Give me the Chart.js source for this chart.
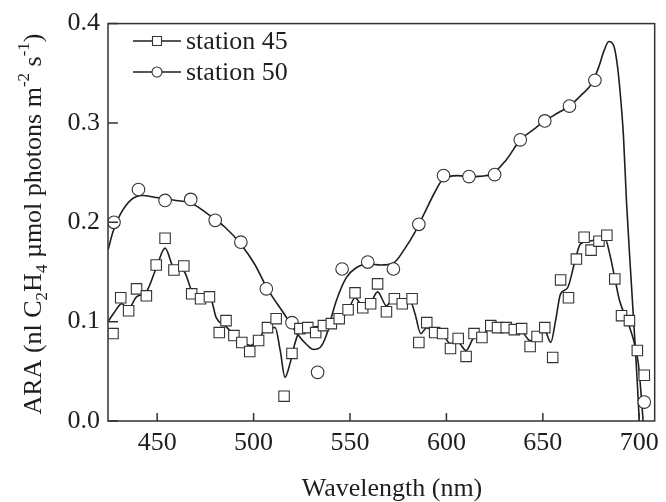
<!DOCTYPE html>
<html>
<head>
<meta charset="utf-8">
<script src="https://cdn.jsdelivr.net/npm/chart.js@4.4.1/dist/chart.umd.min.js"></script>
<style>
html,body{margin:0;padding:0;background:#fff;}
#wrap{width:666px;height:502px;}
</style>
</head>
<body>
<div id="wrap"><canvas id="c" width="666" height="502"></canvas></div>
<script>
// ---- data ----
const xTickValues = [450, 500, 550, 600, 650, 700];
const yTickValues = [0.0, 0.1, 0.2, 0.3, 0.4];

// station 45 measured points (squares)
const wl45 = [427.1, 431.1, 435.2, 439.3, 444.4, 449.5, 454.1, 458.7, 463.8, 467.9, 472.5, 477.1, 482.2, 485.7, 489.8, 493.9, 498.0, 502.6, 507.2, 511.7, 515.8, 519.9, 524.0, 528.1, 532.2, 536.2, 540.3, 544.4, 549.0, 552.6, 556.6, 560.7, 564.3, 568.9, 573.0, 577.1, 582.2, 585.7, 589.8, 593.9, 598.0, 602.1, 606.1, 610.2, 614.3, 618.4, 623.0, 626.5, 631.0, 635.2, 639.0, 643.4, 647.0, 651.0, 655.1, 659.2, 663.3, 667.4, 671.4, 675.0, 679.1, 683.2, 687.3, 690.8, 694.9, 699.0, 702.6];
const ara45 = [0.088, 0.124, 0.111, 0.133, 0.126, 0.157, 0.184, 0.152, 0.156, 0.128, 0.123, 0.125, 0.089, 0.101, 0.086, 0.079, 0.070, 0.081, 0.094, 0.103, 0.025, 0.068, 0.093, 0.094, 0.089, 0.096, 0.098, 0.103, 0.112, 0.129, 0.114, 0.118, 0.138, 0.110, 0.123, 0.118, 0.123, 0.079, 0.099, 0.089, 0.088, 0.073, 0.083, 0.065, 0.088, 0.084, 0.096, 0.094, 0.094, 0.092, 0.093, 0.075, 0.085, 0.094, 0.064, 0.142, 0.124, 0.163, 0.185, 0.172, 0.181, 0.187, 0.143, 0.106, 0.101, 0.071, 0.046];

// station 50 measured points (circles)
const wl50 = [427.6, 440.3, 454.1, 467.4, 480.1, 493.4, 506.6, 519.9, 533.2, 545.9, 559.2, 572.5, 585.7, 598.5, 611.7, 625.0, 638.3, 651.0, 663.8, 677.0, 702.6];
const ara50 = [0.200, 0.233, 0.222, 0.223, 0.202, 0.180, 0.133, 0.099, 0.049, 0.153, 0.160, 0.153, 0.198, 0.247, 0.246, 0.248, 0.283, 0.302, 0.317, 0.343, 0.019];

// fitted curve, station 45
const fit45X = [424.5, 428, 431.6, 435, 439.3, 444.4, 449.5, 454.1, 458.7, 463.8, 468, 472.5, 477.6, 480.6, 485.2, 490.3, 494.4, 498.5, 503.1, 507.2, 511.2, 513.8, 516.3, 518.9, 521.4, 524, 529.1, 536.2, 542.9, 549, 552.6, 556.6, 560.7, 564.3, 568.9, 572.5, 577, 581.1, 583.7, 586.7, 589.8, 593.9, 598, 602, 606, 610.2, 614.3, 618.4, 623, 631, 638.8, 643.4, 647, 651, 654.1, 656.6, 659.2, 662.8, 666.3, 669.4, 673.9, 679.1, 682.2, 684.7, 687.3, 689.8, 694.4, 697.5, 699.5, 700.5, 702];
const fit45Y = [0.100, 0.110, 0.118, 0.113, 0.125, 0.130, 0.154, 0.174, 0.154, 0.151, 0.131, 0.126, 0.124, 0.104, 0.096, 0.086, 0.079, 0.076, 0.084, 0.094, 0.094, 0.071, 0.044, 0.058, 0.078, 0.091, 0.094, 0.096, 0.099, 0.111, 0.124, 0.116, 0.119, 0.130, 0.116, 0.123, 0.118, 0.121, 0.108, 0.088, 0.094, 0.089, 0.087, 0.078, 0.079, 0.071, 0.084, 0.086, 0.094, 0.094, 0.091, 0.081, 0.084, 0.091, 0.079, 0.101, 0.128, 0.134, 0.158, 0.178, 0.181, 0.183, 0.184, 0.168, 0.144, 0.121, 0.098, 0.078, 0.058, 0.038, 0.0];

// fitted curve, station 50
const fit50X = [424.5, 427, 430.6, 436.7, 442.4, 449.5, 459.7, 468, 476.5, 485.2, 493.4, 500.5, 507.2, 515.8, 522.5, 528, 531.1, 534.5, 537.5, 540, 542.9, 548, 553, 559.7, 566, 572.5, 578.6, 583.7, 588.8, 593.9, 598, 605.6, 614.3, 623, 631.1, 638.3, 644.9, 651, 657.7, 663.8, 670.4, 675.5, 679.1, 681.6, 684.2, 686.7, 688.3, 689.8, 691.8, 693.4, 695.4, 697.5, 699, 700];
const fit50Y = [0.172, 0.19, 0.207, 0.223, 0.227, 0.225, 0.222, 0.219, 0.208, 0.195, 0.178, 0.158, 0.133, 0.108, 0.088, 0.076, 0.072, 0.074, 0.085, 0.102, 0.121, 0.144, 0.154, 0.158, 0.157, 0.159, 0.174, 0.19, 0.21, 0.23, 0.243, 0.247, 0.246, 0.248, 0.263, 0.283, 0.293, 0.302, 0.310, 0.317, 0.329, 0.340, 0.357, 0.372, 0.382, 0.378, 0.363, 0.337, 0.287, 0.220, 0.154, 0.088, 0.038, 0.0];

const legendLabels = ['station 45', 'station 50'];
const xTitle = 'Wavelength (nm)';
// y title pieces: [text, kind]  kind: n normal, b subscript, p superscript
const yTitleParts = [['ARA (nl C','n'],['2','b'],['H','n'],['4','b'],[' \u00b5mol photons m','n'],['-2','p'],[' s','n'],['-1','p'],[')','n']];

const pairs = (xs, ys) => xs.map((v, i) => ({x: v, y: ys[i]}));

const FONT = "'Liberation Serif', 'DejaVu Serif', serif";
const INK = '#1e1e1e';
const FS = 26;

const deco = {
  id: 'deco',
  afterDraw(chart) {
    const {ctx, chartArea: a, scales: {x, y}} = chart;
    ctx.save();
    ctx.strokeStyle = '#333';
    ctx.lineWidth = 1.5;
    ctx.strokeRect(a.left, a.top, a.right - a.left, a.bottom - a.top);
    ctx.beginPath();
    xTickValues.forEach(v => { const p = x.getPixelForValue(v); ctx.moveTo(p, a.bottom); ctx.lineTo(p, a.bottom - 8); });
    yTickValues.forEach(v => { const p = y.getPixelForValue(v); ctx.moveTo(a.left, p); ctx.lineTo(a.left + 10, p); });
    ctx.stroke();

    // legend
    const ly = [41, 72];
    ly.forEach((yy, i) => {
      ctx.lineWidth = 1.4; ctx.strokeStyle = INK;
      ctx.beginPath(); ctx.moveTo(133, yy); ctx.lineTo(181, yy); ctx.stroke();
      ctx.fillStyle = '#fff';
      ctx.strokeStyle = '#333';
      ctx.lineWidth = 1.1;
      ctx.beginPath();
      if (i === 0) ctx.rect(152.5, yy - 4.5, 9, 9); else ctx.arc(157, yy, 5, 0, Math.PI * 2);
      ctx.fill(); ctx.stroke();
      ctx.fillStyle = INK;
      ctx.font = FS + 'px ' + FONT;
      ctx.textBaseline = 'middle';
      ctx.textAlign = 'left';
      ctx.fillText(legendLabels[i], 186, yy + 1);
    });

    // x title
    ctx.font = FS + 'px ' + FONT;
    ctx.textAlign = 'center';
    ctx.textBaseline = 'middle';
    ctx.fillText(xTitle, 392, 489);

    // y title (rotated, with sub/superscripts)
    ctx.translate(41, 224);
    ctx.rotate(-Math.PI / 2);
    ctx.textAlign = 'left';
    ctx.textBaseline = 'alphabetic';
    const fontFor = k => (k === 'n' ? FS + 'px ' : '17px ') + FONT;
    let total = 0;
    yTitleParts.forEach(([t, k]) => { ctx.font = fontFor(k); total += ctx.measureText(t).width; });
    let cx = -total / 2;
    yTitleParts.forEach(([t, k]) => {
      ctx.font = fontFor(k);
      const dy = k === 'b' ? 6 : (k === 'p' ? -12 : 0);
      ctx.fillText(t, cx, dy);
      cx += ctx.measureText(t).width;
    });
    ctx.restore();
  }
};

new Chart(document.getElementById('c'), {
  type: 'scatter',
  data: {
    datasets: [
      {label: legendLabels[0], data: pairs(wl45, ara45), pointStyle: 'rect', pointRadius: 7.4, pointBackgroundColor: '#fff', pointBorderColor: '#333', pointBorderWidth: 1.1, showLine: false, order: 0},
      {label: legendLabels[1], data: pairs(wl50, ara50), pointStyle: 'circle', pointRadius: 6.3, pointBackgroundColor: '#fff', pointBorderColor: '#333', pointBorderWidth: 1.1, showLine: false, order: 0},
      {label: 'fit 45', data: pairs(fit45X, fit45Y), showLine: true, pointRadius: 0, borderColor: INK, borderWidth: 1.6, cubicInterpolationMode: 'monotone', order: 1},
      {label: 'fit 50', data: pairs(fit50X, fit50Y), showLine: true, pointRadius: 0, borderColor: INK, borderWidth: 1.6, cubicInterpolationMode: 'monotone', order: 1}
    ]
  },
  options: {
    responsive: false,
    animation: false,
    devicePixelRatio: 1,
    layout: {padding: {top: 20, right: 2, left: 0, bottom: 0}},
    plugins: {legend: {display: false}, tooltip: {enabled: false}},
    scales: {
      x: {
        type: 'linear', min: 424.5, max: 708,
        grid: {display: false, drawTicks: false},
        border: {display: false},
        afterBuildTicks: s => { s.ticks = xTickValues.map(v => ({value: v})); },
        afterFit: s => { s.height = 81; },
        ticks: {color: INK, font: {family: FONT, size: FS}, padding: 7, maxRotation: 0, autoSkip: false}
      },
      y: {
        type: 'linear', min: 0, max: 0.4,
        grid: {display: false, drawTicks: false},
        border: {display: false},
        afterBuildTicks: s => { s.ticks = yTickValues.map(v => ({value: v})); },
        afterFit: s => { s.width = 108; },
        ticks: {color: INK, font: {family: FONT, size: FS}, padding: 8, callback: v => Number(v).toFixed(1)}
      }
    }
  },
  plugins: [deco]
});
</script>
</body>
</html>
